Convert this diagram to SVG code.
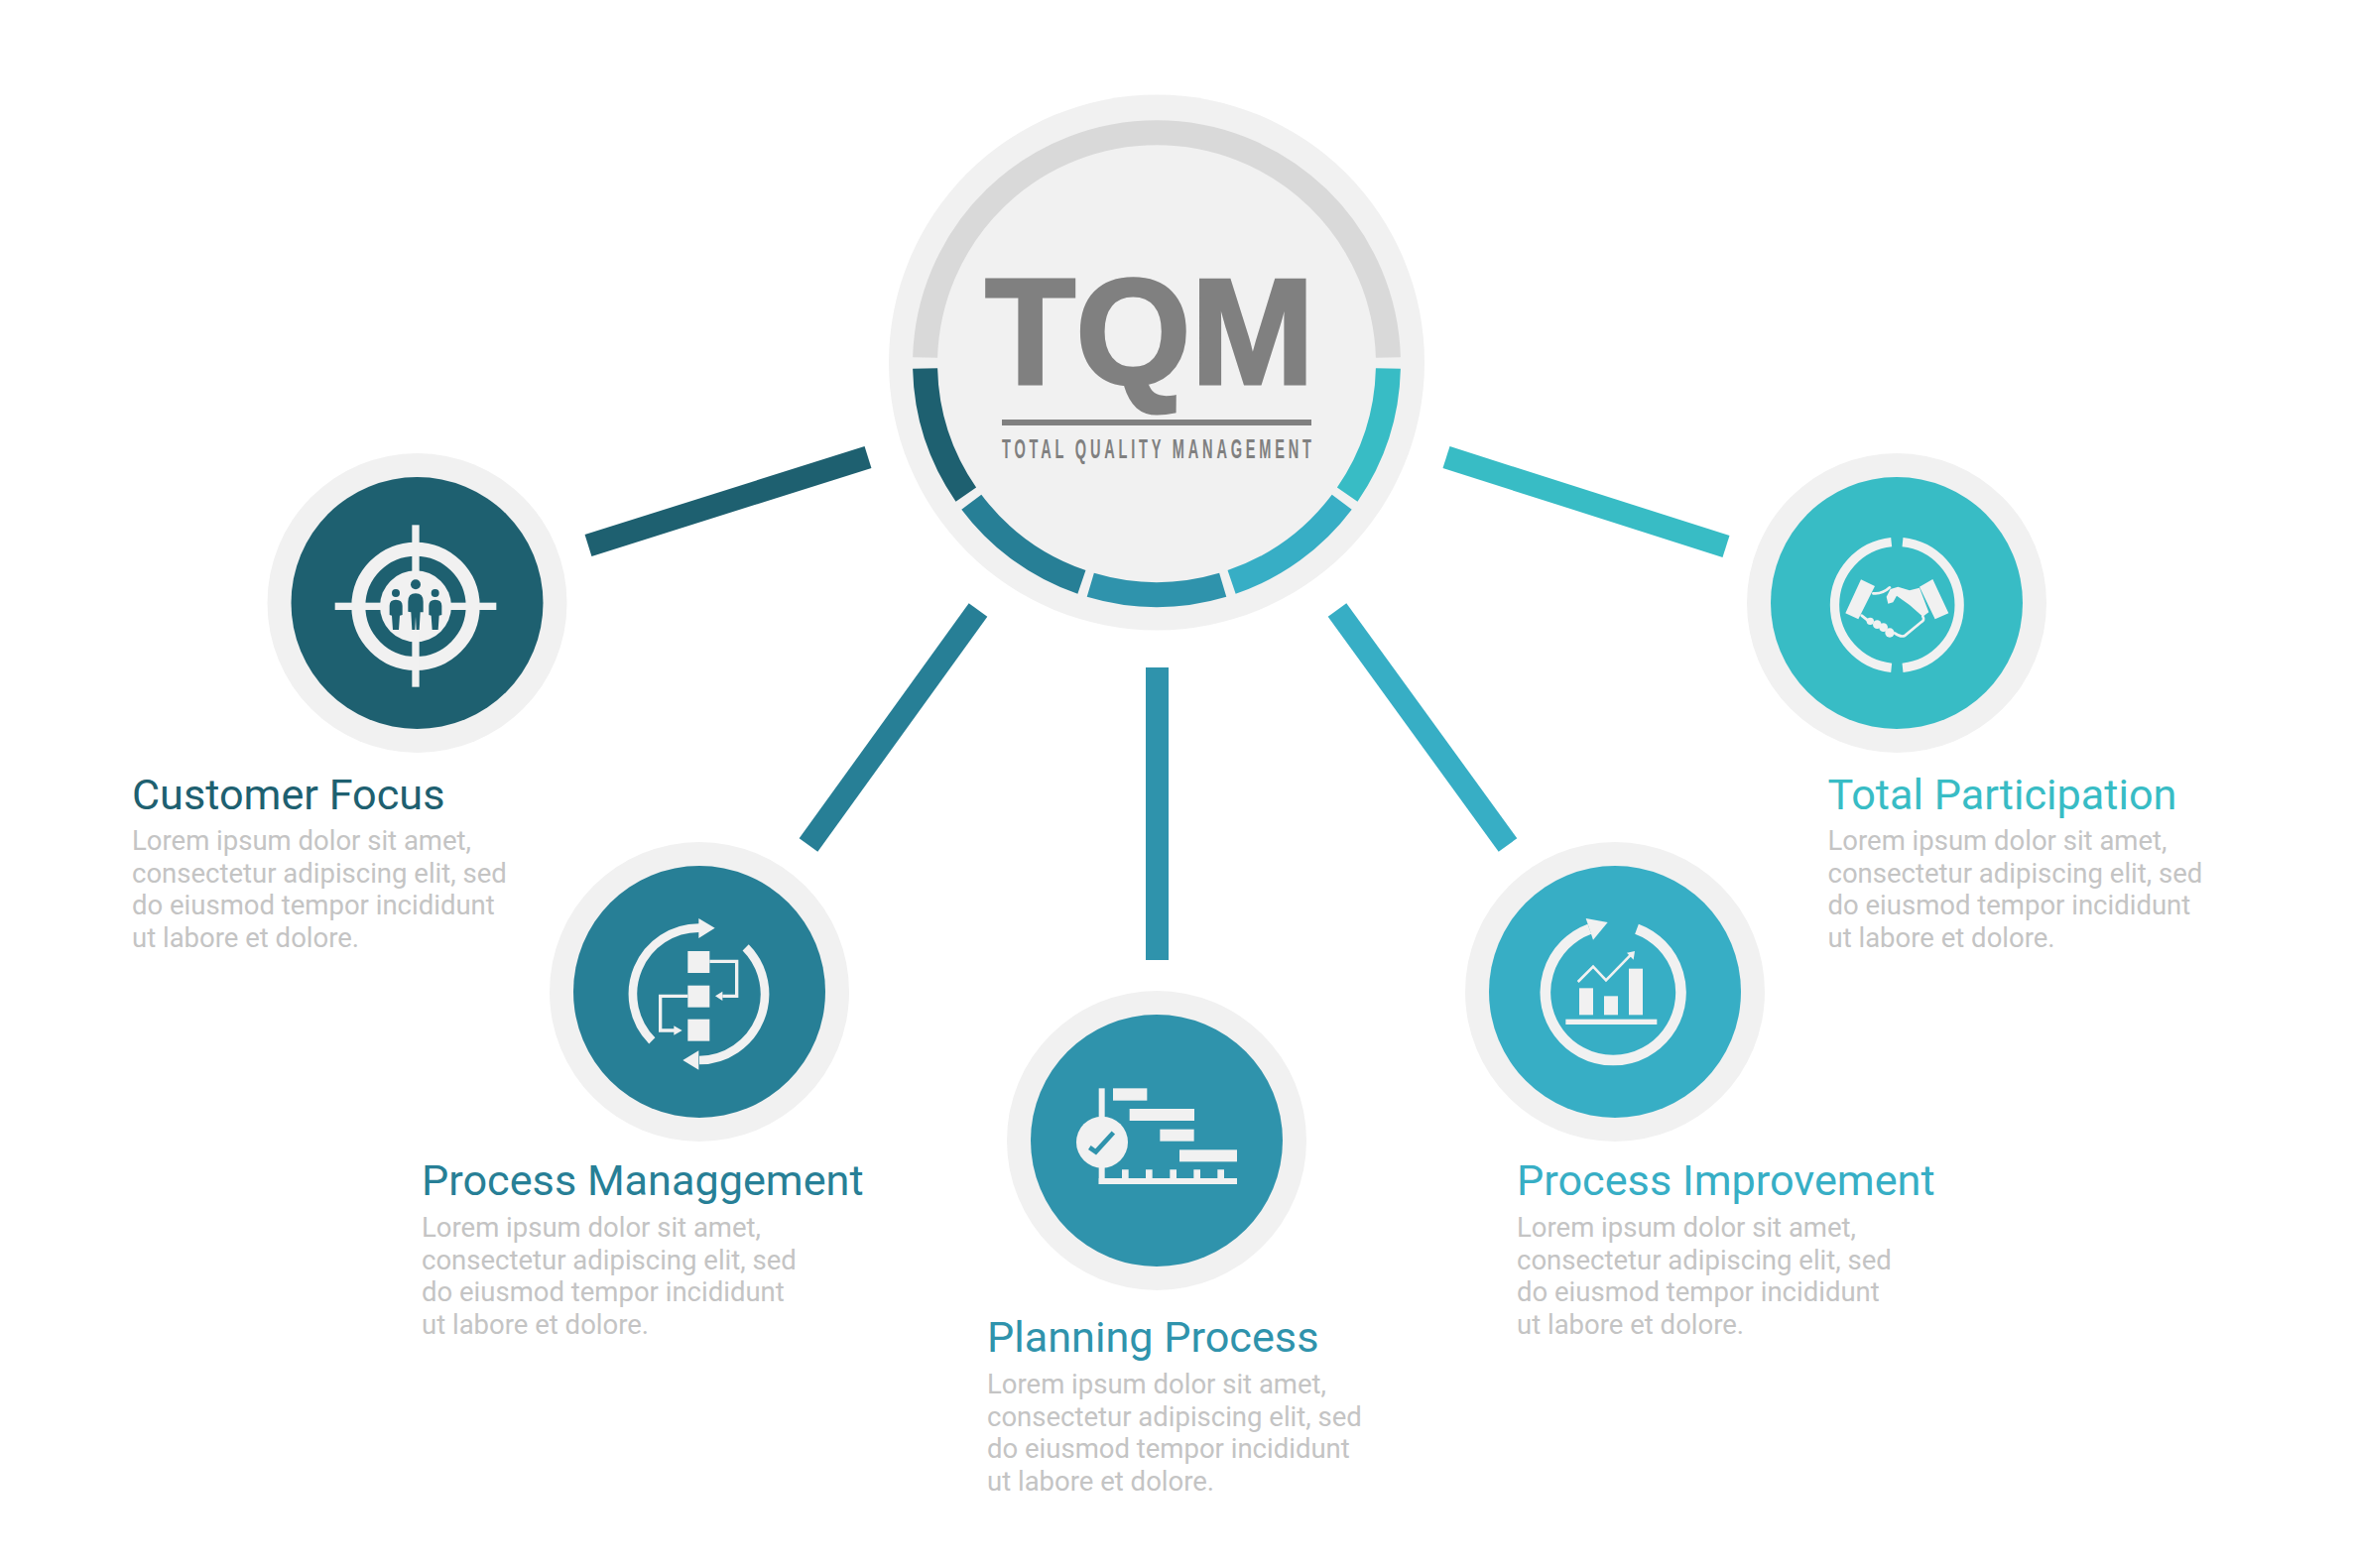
<svg xmlns="http://www.w3.org/2000/svg" width="2372" height="1581" viewBox="0 0 2372 1581">
<style>
.halo{fill:#f1f1f1}
.ic{fill:#f1f1f1}
.il{fill:none;stroke:#f1f1f1}
.h{font-family:Roboto,"Liberation Sans",sans-serif;font-size:43.200px}
.b{font-family:Roboto,"Liberation Sans",sans-serif;font-size:27.500px;fill:#c4c4c4}
.arc{fill:none;stroke-width:25}
.con{fill:none;stroke-width:23}
.c1{stroke:#1e6070}.c2{stroke:#277f96}.c3{stroke:#2f93ac}.c4{stroke:#37aec5}.c5{stroke:#38bcc5}
</style>
<rect width="2372" height="1581" fill="#ffffff"/>
<g id="connectors">
<line class="con c1" x1="593" y1="550" x2="875" y2="461"/>
<line class="con c2" x1="986" y1="615" x2="815" y2="852"/>
<line class="con c3" x1="1166.500" y1="673" x2="1166.500" y2="968"/>
<line class="con c4" x1="1348" y1="615" x2="1520" y2="852"/>
<line class="con c5" x1="1458" y1="461" x2="1740" y2="551"/>
</g>
<g id="tqm">
<circle class="halo" cx="1166" cy="365.500" r="270"/>
<path class="arc" stroke="#d9d9d9" d="M932.600 360.500A233.500 233.500 0 0 1 1399.400 360.500"/>
<path class="arc c1" d="M932.600 371.500A233.500 233.500 0 0 0 973.800 498.600"/>
<path class="arc c2" d="M979.300 506.200A233.500 233.500 0 0 0 1090.400 586.900"/>
<path class="arc c3" d="M1099.300 589.800A233.500 233.500 0 0 0 1232.700 589.800"/>
<path class="arc c4" d="M1241.600 586.900A233.500 233.500 0 0 0 1352.700 506.200"/>
<path class="arc c5" d="M1358.200 498.600A233.500 233.500 0 0 0 1399.400 371.500"/>
<text x="993" y="386.500" font-family="Liberation Sans,sans-serif" font-weight="700" font-size="152" fill="#808080" stroke="#808080" stroke-width="3" textLength="332" lengthAdjust="spacingAndGlyphs">TQM</text>
<rect x="1010" y="423" width="312" height="6" fill="#808080"/>
<text transform="translate(1010 462) scale(.52 1)" font-family="Liberation Sans,sans-serif" font-weight="700" font-size="28" fill="#808080" textLength="600" lengthAdjust="spacing">TOTAL QUALITY MANAGEMENT</text>
</g>
<g id="customer-focus">
<circle class="halo" cx="420.500" cy="608" r="151"/>
<circle cx="420.500" cy="608" r="127" fill="#1e6070"/>
<g transform="translate(310 500) scale(.33333)">
<circle class="il" cx="327" cy="334" r="173" stroke-width="42"/>
<circle class="ic" cx="327" cy="334" r="108"/>
<rect class="ic" x="83" y="323" width="488" height="22"/>
<rect class="ic" x="316" y="88" width="22" height="490"/>
<g fill="#1e6070">
<circle cx="327" cy="268" r="15"/><circle cx="267" cy="294" r="12"/><circle cx="386" cy="294" r="12"/>
<path d="M304 350V320Q304 295 327 295Q350 295 350 320V352H341L338 405H329L327 365L325 405H316L313 352Z"/>
<path d="M248 360V332Q248 314 267 314Q287 314 287 332V360L279 362L276 405H258L255 362Z"/>
<path d="M367 360V332Q367 314 386 314Q406 314 406 332V360L398 362L395 405H377L374 362Z"/>
</g>
</g>
<text class="h" x="133" y="816" fill="#1e6070">Customer Focus</text>
<text class="b" x="133" y="857">Lorem ipsum dolor sit amet,</text>
<text class="b" x="133" y="890">consectetur adipiscing elit, sed</text>
<text class="b" x="133" y="922">do eiusmod tempor incididunt</text>
<text class="b" x="133" y="955">ut labore et dolore.</text>
</g>
<g id="process-management">
<circle class="halo" cx="705" cy="1000" r="151"/>
<circle cx="705" cy="1000" r="127" fill="#277f96"/>
<g transform="translate(600 890) scale(.33333)">
<path class="il" stroke-width="26" d="M172 478A200 200 0 0 1 315 137M455 196A200 200 0 0 1 315 537"/>
<path class="ic" d="M313 108L362 137L313 168ZM313 508L265 537L313 566Z"/>
<rect class="ic" x="280" y="207" width="66" height="66"/><rect class="ic" x="280" y="311" width="66" height="66"/><rect class="ic" x="280" y="413" width="66" height="66"/>
<path class="il" stroke-width="10" d="M346 238H428V343H385M280 343H197V447H240"/>
<path class="ic" d="M385 329L363 343L385 357ZM238 433L263 447L238 461Z"/>
</g>
<text class="h" x="425" y="1205" fill="#277f96">Process Managgement</text>
<text class="b" x="425" y="1247">Lorem ipsum dolor sit amet,</text>
<text class="b" x="425" y="1280">consectetur adipiscing elit, sed</text>
<text class="b" x="425" y="1312">do eiusmod tempor incididunt</text>
<text class="b" x="425" y="1345">ut labore et dolore.</text>
</g>
<g id="planning-process">
<circle class="halo" cx="1166" cy="1150" r="151"/>
<circle cx="1166" cy="1150" r="127" fill="#2f93ac"/>
<g transform="translate(1060 1060) scale(.33333)">
<rect class="ic" x="186" y="112" width="103" height="37"/><rect class="ic" x="236" y="174" width="196" height="36"/><rect class="ic" x="328" y="236" width="103" height="36"/><rect class="ic" x="387" y="298" width="174" height="36"/>
<rect class="ic" x="143" y="112" width="18" height="290"/><rect class="ic" x="143" y="384" width="418" height="18"/>
<path class="ic" d="M213 358h20v26h-20zM285 358h20v26h-20zM358 358h20v26h-20zM430 358h20v26h-20zM502 358h20v26h-20z"/>
<circle class="ic" cx="153" cy="275" r="78"/>
<path fill="none" stroke="#2f93ac" stroke-width="14" d="M115 291L134 304L187 246"/>
</g>
<text class="h" x="995" y="1363" fill="#2f93ac">Planning Process</text>
<text class="b" x="995" y="1405">Lorem ipsum dolor sit amet,</text>
<text class="b" x="995" y="1438">consectetur adipiscing elit, sed</text>
<text class="b" x="995" y="1470">do eiusmod tempor incididunt</text>
<text class="b" x="995" y="1503">ut labore et dolore.</text>
</g>
<g id="process-improvement">
<circle class="halo" cx="1628" cy="1000" r="151"/>
<circle cx="1628" cy="1000" r="127" fill="#37aec5"/>
<g transform="translate(1520 900) scale(.33333)">
<path class="il" stroke-width="32" d="M390 110A205 205 0 1 1 247 110"/>
<path class="ic" d="M236 78L302 90L258 143Z"/>
<rect class="ic" x="216" y="289" width="42" height="81"/><rect class="ic" x="291" y="313" width="42" height="57"/><rect class="ic" x="366" y="230" width="42" height="140"/><rect class="ic" x="175" y="383" width="276" height="16"/>
<path class="il" stroke-width="8" d="M212 270L258 224L297 265L370 190"/>
<path class="ic" d="M384 177L360 182L380 203Z"/>
</g>
<text class="h" x="1529" y="1205" fill="#37aec5">Process Improvement</text>
<text class="b" x="1529" y="1247">Lorem ipsum dolor sit amet,</text>
<text class="b" x="1529" y="1280">consectetur adipiscing elit, sed</text>
<text class="b" x="1529" y="1312">do eiusmod tempor incididunt</text>
<text class="b" x="1529" y="1345">ut labore et dolore.</text>
</g>
<g id="total-participation">
<circle class="halo" cx="1912" cy="608" r="151"/>
<circle cx="1912" cy="608" r="127" fill="#38bcc5"/>
<g transform="translate(1810 510) scale(.33333)">
<path class="il" stroke-width="28" d="M324 110A191 191 0 0 1 324 490M290 490A191 191 0 0 1 290 110"/>
<path class="ic" d="M198 223L240 243L190 343L151 325ZM415 222L463 325L422 343L375 245ZM375 248L345 256L310 245L287 252L275 275L280 296L295 292L306 272L345 300L385 335L403 322Z"/>
<path class="il" stroke-width="8" stroke-linecap="round" d="M235 265Q262 268 285 247M200 332L218 346M385 335Q392 345 380 352L330 393Q318 398 300 385"/>
<circle class="ic" cx="226" cy="349" r="11"/><circle class="ic" cx="247" cy="359" r="13"/><circle class="ic" cx="266" cy="368" r="13"/><circle class="ic" cx="285" cy="384" r="14"/>
</g>
<text class="h" x="1842.500" y="816" fill="#38bcc5">Total Participation</text>
<text class="b" x="1842.500" y="857">Lorem ipsum dolor sit amet,</text>
<text class="b" x="1842.500" y="890">consectetur adipiscing elit, sed</text>
<text class="b" x="1842.500" y="922">do eiusmod tempor incididunt</text>
<text class="b" x="1842.500" y="955">ut labore et dolore.</text>
</g>
</svg>
